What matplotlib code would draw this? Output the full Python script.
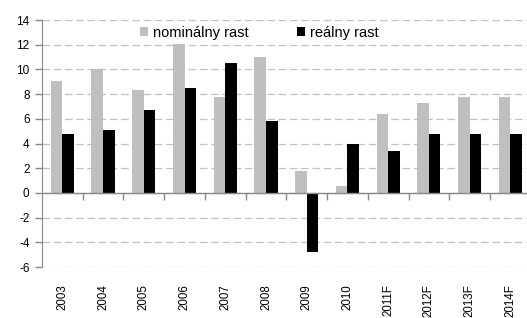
import numpy as np
import matplotlib.pyplot as plt

years = ['2003', '2004', '2005', '2006', '2007', '2008', '2009', '2010',
         '2011F', '2012F', '2013F', '2014F']
nominal = [9.1, 10.0, 8.3, 12.1, 7.8, 11.0, 1.8, 0.6, 6.4, 7.3, 7.8, 7.8]
real = [4.8, 5.1, 6.7, 8.5, 10.5, 5.8, -4.8, 4.0, 3.4, 4.8, 4.8, 4.8]

plt.rcParams['font.family'] = ['Liberation Sans', 'DejaVu Sans']
plt.rcParams['axes.unicode_minus'] = False

fig = plt.figure(figsize=(5.27, 3.18), dpi=100)
ax = fig.add_axes([0.0797, 0.160, 1.007 - 0.0797, 0.937 - 0.160])

x = np.arange(len(years))
w = 0.285
ax.bar(x - w/2, nominal, w, color='#bfbfbf', label='nominálny rast', zorder=2)
ax.bar(x + w/2, real, w, color='black', label='reálny rast', zorder=2)

ax.set_xlim(-0.5, len(years) - 0.5)
ax.set_ylim(-6, 14)
ax.set_yticks(range(-6, 15, 2))
ax.yaxis.grid(True, color='#c0c0c0', linestyle=(0, (6, 3)), linewidth=0.9, zorder=0)
ax.axhline(0, color='#888888', linewidth=1.0, zorder=3)

for s in ['top', 'right', 'bottom']:
    ax.spines[s].set_visible(False)
ax.spines['left'].set_color('#888888')
ax.tick_params(axis='y', colors='#888888', length=5, width=1, labelsize=8.5,
               labelcolor='black', pad=4)

ax.set_xticks(x)
ax.set_xticklabels(years, rotation=90, fontsize=8.3)
ax.tick_params(axis='x', length=0, pad=12)

# tick marks on the zero line between categories
sec = ax.secondary_xaxis(6 / 20)
sec.set_xticks(np.arange(0.5, len(years) - 0.5, 1))
sec.set_xticklabels([])
sec.tick_params(length=5, width=1, colors='#888888', direction='out')
sec.spines['bottom'].set_visible(False)

leg = ax.legend(loc='upper center', bbox_to_anchor=(0.444, 1.03), ncol=2, frameon=False,
                handlelength=0.6, handleheight=0.6, handletextpad=0.3,
                columnspacing=3.3, prop={'family': ['Liberation Sans Narrow', 'Liberation Sans'], 'size': 10.5})

fig.savefig('out.png', dpi=100)
